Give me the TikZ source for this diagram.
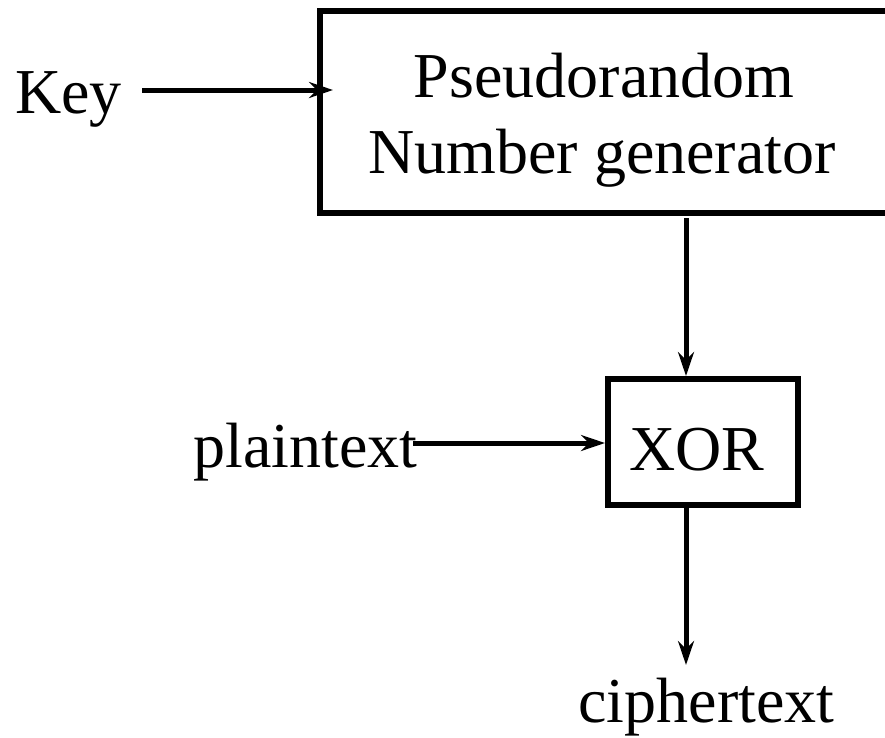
\documentclass[tikz,border=0pt]{standalone}
\usepackage{fontspec}
\setmainfont{Liberation Serif}
\usetikzlibrary{arrows.meta}

\tikzset{
  blockbox/.style={draw=black, line width=6pt, fill=none, inner sep=0pt},
  lbl/.style={inner sep=0pt, font=\fontsize{64}{76}\selectfont},
  flow/.style={line width=5pt, -{Stealth[length=24pt, width=16pt, inset=8pt]}}
}

\begin{document}
\begin{tikzpicture}[x=1pt, y=-1pt]
  \useasboundingbox (0,0) rectangle (885,737);
  \clip (0,0) rectangle (885,737);

  % generator block (runs past the right margin)
  \node[blockbox, minimum width=573.5pt, minimum height=201.5pt] (prng) at (606.25,111.75) {};
  \node[lbl, anchor=base] (prngA) at (604,97) {Pseudorandom};
  \node[lbl, anchor=base] (prngB) at (602,173) {Number generator};

  % combining block
  \node[blockbox, minimum width=190pt, minimum height=125.5pt] (xor) at (702.5,441.75) {};
  \node[lbl, anchor=base] (xorlbl) at (697,470) {XOR};

  % inputs and output
  \node[lbl, anchor=base west] (key) at (15,113) {Key};
  \node[lbl, anchor=base] (plain) at (305.5,467) {plaintext};
  \node[lbl, anchor=base] (cipher) at (706.5,722) {ciphertext};

  % connector end points
  \coordinate (keyout) at (142,90);
  \coordinate (keyin) at (333,90);
  \coordinate (streamout) at (686,218);
  \coordinate (streamin) at (686,376);
  \coordinate (plainout) at (413,443);
  \coordinate (plainin) at (605,443);
  \coordinate (xorout) at (686,508);
  \coordinate (cipherin) at (686,665);

  \draw[flow] (keyout) -- (keyin);
  \draw[flow] (streamout) -- (streamin);
  \draw[flow] (plainout) -- (plainin);
  \draw[flow] (xorout) -- (cipherin);
\end{tikzpicture}
\end{document}
